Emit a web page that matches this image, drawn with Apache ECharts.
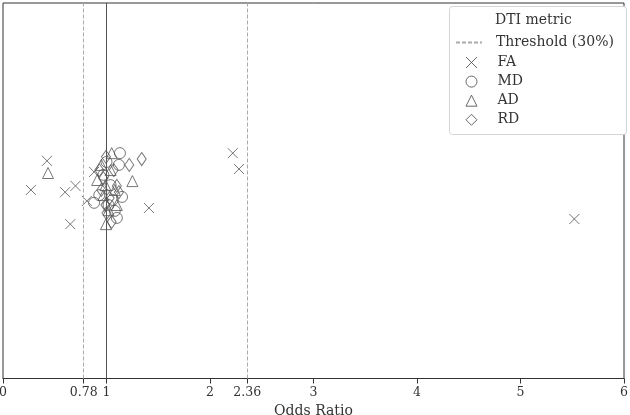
<!DOCTYPE html>
<html>
<head>
<meta charset="utf-8">
<script src="https://cdn.jsdelivr.net/npm/echarts@6/dist/echarts.min.js"></script>
<style>
    html, body { margin: 0; padding: 0; background: #fff; }
    #chart { width: 630px; height: 415px; }
</style>
</head>
<body>
<div id="chart"></div>
<script>
// odds ratios (x) and vertical jitter (y, arbitrary 0-100) per DTI metric
const faOR = [0.27, 0.425, 0.60, 0.70, 0.65, 0.81, 0.88, 1.41, 2.22, 2.28, 5.52]
const faY = [49.2, 57.1, 48.6, 50.3, 39.9, 46.2, 54.1, 44.3, 59.2, 54.9, 41.3]

const mdOR = [1.13, 1.12, 0.88, 1.10, 1.15, 1.02, 0.97, 1.04, 1.08, 0.93, 1.00, 1.06]
const mdY = [59.2, 56.0, 45.7, 41.6, 47.3, 45.1, 53.3, 50.5, 43.5, 47.8, 56.8, 46.5]

const adOR = [0.435, 1.25, 0.995, 1.05, 0.91, 0.97, 1.02, 1.08, 0.95, 1.10, 0.99, 1.04]
const adY = [53.8, 51.6, 39.9, 59.2, 51.9, 47.8, 43.7, 49.2, 56.0, 45.1, 50.5, 54.6]

const rdOR = [1.34, 1.22, 0.995, 1.07, 0.95, 1.10, 1.00, 0.97, 1.03, 0.99, 1.12, 0.93, 1.05]
const rdY = [57.6, 56.0, 58.2, 54.6, 49.2, 50.3, 42.9, 52.4, 47.0, 45.1, 48.6, 54.6, 40.5]

const thresholds = [0.78, 2.36]
const tickValues = [0, 0.78, 1, 2, 2.36, 3, 4, 5, 6]

const zip = (xs, ys) => xs.map((x, i) => [x, ys[i]])

const markerColor = '#555'
const crossPath = 'path://M0,0L10,10M10,0L0,10'
const legendFont = { fontSize: 14, color: '#333', fontFamily: 'DejaVu Serif' }

function scatter(name, symbol, size, xs, ys) {
    return {
        name: name,
        type: 'scatter',
        symbol: symbol,
        symbolSize: size,
        data: zip(xs, ys),
        itemStyle: {
            color: 'none',
            borderColor: markerColor,
            borderWidth: 1
        },
        emphasis: { disabled: true }
    }
}

const chart = echarts.init(document.getElementById('chart'))

const option = {
    animation: false,
    textStyle: { fontFamily: 'DejaVu Serif' },
    grid: {
        left: 3,
        right: 6,
        top: 3,
        bottom: 36.5,
        outerBoundsMode: 'none',
        containLabel: false,
        show: true,
        borderColor: '#333',
        borderWidth: 1
    },
    xAxis: {
        type: 'value',
        min: 0,
        max: 6,
        name: 'Odds Ratio',
        nameLocation: 'middle',
        nameGap: 22,
        nameTextStyle: { fontSize: 14, color: '#333', fontFamily: 'DejaVu Serif' },
        axisLine: { onZero: false, lineStyle: { color: '#333' } },
        axisTick: {
            customValues: tickValues,
            length: 5,
            lineStyle: { color: '#333' }
        },
        axisLabel: {
            customValues: tickValues,
            fontSize: 12.5,
            color: '#333',
            margin: 8,
            fontFamily: 'DejaVu Serif',
            formatter: v => String(v)
        },
        splitLine: { show: false }
    },
    yAxis: {
        type: 'value',
        min: -2.04,
        max: 100,
        show: false
    },
    legend: [
        {
            orient: 'vertical',
            left: 449,
            top: 35.5,
            z: 20,
            itemWidth: 26,
            itemHeight: 10,
            selectedMode: false,
            textStyle: Object.assign({ padding: [0, 0, 0, 9] }, legendFont),
            padding: [0, 0, 0, 6],
            data: ['Threshold (30%)']
        },
        {
            orient: 'vertical',
            left: 463.5,
            top: 54.5,
            z: 20,
            itemWidth: 11,
            itemHeight: 11,
            itemGap: 3.1,
            selectedMode: false,
            itemStyle: { borderWidth: 1, borderColor: '#444' },
            textStyle: Object.assign({ padding: [0, 0, 0, 15.5] }, legendFont),
            padding: 0,
            data: ['FA', 'MD', 'AD', 'RD']
        }
    ],
    graphic: [
        {
            type: 'rect',
            left: 449,
            top: 6,
            shape: { width: 177, height: 128, r: 3 },
            style: { fill: '#fff', stroke: '#d6d6d6', lineWidth: 1 },
            z: 1
        },
        {
            type: 'text',
            left: 495,
            top: 13.5,
            style: { text: 'DTI metric', font: '14px "DejaVu Serif"', fill: '#333' },
            z: 2
        }
    ],
    series: [
        {
            name: 'Threshold (30%)',
            type: 'line',
            symbol: 'none',
            data: [],
            itemStyle: { color: 'rgba(0,0,0,0)' },
            lineStyle: { type: [4, 2], color: '#aaa', width: 1 },
            markLine: {
                silent: true,
                symbol: 'none',
                label: { show: false },
                lineStyle: { type: [4, 2], color: '#aaa', width: 1 },
                data: thresholds.map(t => ({ xAxis: t })).concat([
                    { xAxis: 1, lineStyle: { type: 'solid', color: '#555', width: 1 } }
                ])
            }
        },
        scatter('FA', crossPath, 10, faOR, faY),
        scatter('MD', 'circle', 11, mdOR, mdY),
        scatter('AD', 'triangle', 11, adOR, adY),
        scatter('RD', 'diamond', [9, 13], rdOR, rdY)
    ]
}

chart.setOption(option)
</script>
</body>
</html>
